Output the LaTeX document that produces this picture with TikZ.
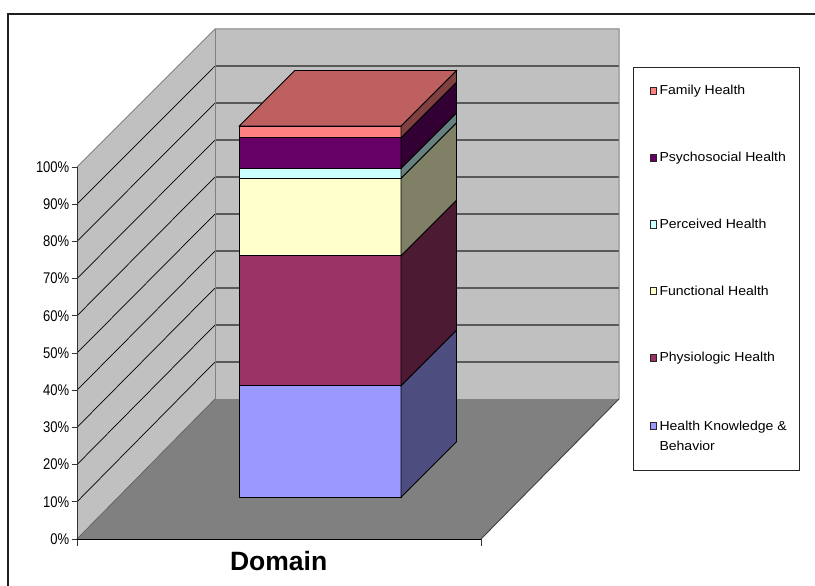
\documentclass[tikz,border=0pt]{standalone}
\usepackage{fontspec}
\setmainfont{Liberation Sans}
\begin{document}
\begin{tikzpicture}[x=1pt,y=-1pt,line join=miter,
  wallline/.style={draw=black!50,line width=1pt},
  sidegrid/.style={draw=black,line width=0.7pt},
  backgrid/.style={draw=black!65,line width=1.1pt},
  axisline/.style={draw=black!80,line width=1pt},
  barface/.style={draw=black,line width=0.9pt},
  axislabel/.style={anchor=east,inner sep=0pt,font=\fontsize{15.5}{15.5}\selectfont},
  legendmark/.style={draw=black!85,line width=0.8pt,minimum width=5.5pt,minimum height=7.5pt,inner sep=0pt},
  legendtext/.style={anchor=base west,inner sep=0pt,font=\fontsize{13}{20}\selectfont}]
\definecolor{wallc}{HTML}{C0C0C0}
\definecolor{floorc}{HTML}{808080}
\definecolor{hkbF}{HTML}{9999FF}\definecolor{hkbS}{HTML}{4D4D80}
\definecolor{phyF}{HTML}{993366}\definecolor{phyS}{HTML}{4D1A33}
\definecolor{funF}{HTML}{FFFFCC}\definecolor{funS}{HTML}{808066}
\definecolor{perF}{HTML}{CCFFFF}\definecolor{perS}{HTML}{668080}
\definecolor{psyF}{HTML}{660066}\definecolor{psyS}{HTML}{330033}
\definecolor{famF}{HTML}{FF8080}\definecolor{famS}{HTML}{804040}\definecolor{famT}{HTML}{BF6060}
\useasboundingbox (0,0) rectangle (815,586);

% outer frame
\draw[line width=2pt,color=black!88] (8,600) -- (8,14) -- (830,14);

% side wall, back wall and floor
\fill[wallc] (77,539) -- (77,167) -- (215,29) -- (215,399) -- cycle;
\fill[wallc] (215,29) rectangle (619,399);
\fill[floorc] (77,539) -- (481,539) -- (619,399) -- (215,399) -- cycle;

% gridlines every 10%
\foreach \k in {1,...,9}{
  \pgfmathsetmacro{\yf}{539-37.2*\k}
  \pgfmathsetmacro{\yb}{399-37.0*\k}
  \draw[sidegrid] (77,\yf) -- (215,\yb);
  \draw[backgrid] (215,\yb) -- (619,\yb);
}

% wall outlines
\draw[wallline] (77,167) -- (215,29) -- (619,29) -- (619,399);
\draw[wallline] (215,29) -- (215,399);
\draw[draw=black!60,line width=0.8pt] (77,539) -- (215,399);
\draw[draw=black!75,line width=0.9pt] (481,539) -- (619,399);

% value axis with ticks and labels
\draw[axisline] (77,167) -- (77,546);
\foreach \k in {0,...,10}{
  \pgfmathsetmacro{\yf}{539-37.2*\k}
  \pgfmathtruncatemacro{\p}{10*\k}
  \draw[axisline] (71.5,\yf) -- (77,\yf);
  \node[axislabel] (yl\k) at (69.5,\yf) {\scalebox{0.84}[1]{\p\%}};
}
% category axis
\draw[draw=black,line width=1pt] (77,539) -- (481,539);
\draw[axisline] (481,539) -- (481,546);

% stacked bar: front faces and right side faces
\def\xl{239.3}\def\xr{401}\def\dd{55.5}
\foreach \ylo/\yhi/\cf/\cs in {497.3/385.7/hkbF/hkbS, 385.7/255.7/phyF/phyS,
    255.7/178.3/funF/funS, 178.3/168.3/perF/perS, 168.3/137.7/psyF/psyS, 137.7/126/famF/famS}{
  \filldraw[barface,fill=\cf] (\xl,\ylo) rectangle (\xr,\yhi);
  \filldraw[barface,fill=\cs] (\xr,\ylo) -- ++(\dd,-\dd) -- ++(0,\yhi-\ylo) -- (\xr,\yhi) -- cycle;
}
% top face
\filldraw[barface,fill=famT] (\xl,126) -- ++(\dd,-\dd) -- ++(\xr-\xl,0) -- (\xr,126) -- cycle;

% category title
\node[anchor=base,inner sep=0pt,font=\bfseries\fontsize{26.5}{26.5}\selectfont] (title) at (278.7,570) {Domain};

% legend
\node[draw=black!85,line width=0.9pt,anchor=north west,minimum width=166.3pt,minimum height=403.3pt,inner sep=0pt] (legend) at (632.7,66.7) {};
\foreach \i/\yb/\c/\t in {1/95/famF/Family Health, 2/161.7/psyF/Psychosocial Health,
    3/228.3/perF/Perceived Health, 4/295/funF/Functional Health, 5/361.7/phyF/Physiologic Health}{
  \node[legendmark,fill=\c] (mk\i) at (653.5,\yb-4) {};
  \node[legendtext] (lg\i) at (659.3,\yb) {\scalebox{1.08}[1]{\t}};
}
\node[legendmark,fill=hkbF] (mk6) at (653.5,426) {};
\node[legendtext] (lg6) at (659.3,430) {\scalebox{1.08}[1]{\begin{tabular}[t]{@{}l@{}}Health Knowledge \&\\Behavior\end{tabular}}};
\end{tikzpicture}
\end{document}
